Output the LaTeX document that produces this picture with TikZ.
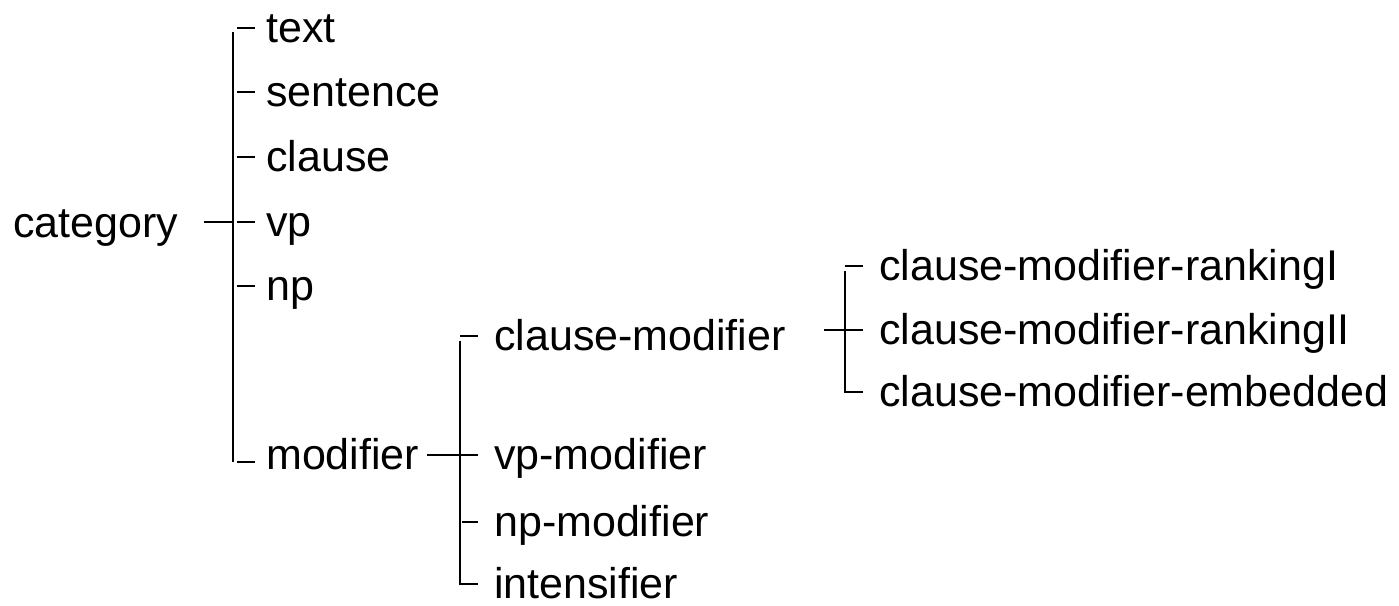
\documentclass[tikz,border=0pt]{standalone}
\usepackage{fontspec}
\setmainfont{Liberation Sans}
\begin{document}
\begin{tikzpicture}[x=1pt,y=-1pt,
  lbl/.style={anchor=west, inner sep=0pt, text height=32pt, text depth=3pt,
              font=\fontsize{43}{50}\selectfont},
  link/.style={line width=1.6pt, line cap=butt}]
\useasboundingbox (0,0) rectangle (1399,605);

% labels
\node[lbl] (category) at (13,223) {category};
\node[lbl] (text)     at (266,28)  {text};
\node[lbl] (sentence) at (266,92)  {sentence};
\node[lbl] (clause)   at (266,157) {clause};
\node[lbl] (vp)       at (266,222) {vp};
\node[lbl] (np)       at (266,286) {np};
\node[lbl] (modifier) at (266,455) {modifier};

\node[lbl] (cmod)  at (494,336) {clause-modifier};
\node[lbl] (vpmod) at (494,455) {vp-modifier};
\node[lbl] (npmod) at (494,522) {np-modifier};
\node[lbl] (inten) at (494,584) {intensifier};

\node[lbl] (rank1) at (879,266) {clause-modifier-rankingI};
\node[lbl] (rank2) at (879,330) {clause-modifier-rankingII};
\node[lbl] (embed) at (879,392) {clause-modifier-embedded};

% first bracket
\draw[link] ([xshift=-33pt,yshift=-4pt]text.west) -- ([xshift=-33pt,yshift=-7pt]modifier.west);
\foreach \n in {text,sentence,clause,vp,np}
  \draw[link] ([xshift=-29pt]\n.west) -- ([xshift=-11pt]\n.west);
\draw[link] ([xshift=-29pt,yshift=-7pt]modifier.west) -- ([xshift=-11pt,yshift=-7pt]modifier.west);
\draw[link] ([xshift=26pt]category.east |- vp.west) -- ([xshift=-33pt]vp.west);

% second bracket
\draw[link] ([xshift=-34pt,yshift=-5pt]cmod.west) -- ([xshift=-34pt]inten.west) -- ([xshift=-16pt]inten.west);
\draw[link] ([xshift=-34pt]cmod.west) -- ([xshift=-16pt]cmod.west);
\draw[link] ([xshift=-32pt]npmod.west) -- ([xshift=-16pt]npmod.west);
\draw[link] ([xshift=8pt]modifier.east) -- ([xshift=-16pt]vpmod.west);

% third bracket
\draw[link] ([xshift=-34pt,yshift=-5pt]rank1.west) -- ([xshift=-34pt]embed.west) -- ([xshift=-16pt]embed.west);
\draw[link] ([xshift=-34pt]rank1.west) -- ([xshift=-16pt]rank1.west);
\draw[link] ([xshift=38pt]cmod.east |- rank2.west) -- ([xshift=-16pt]rank2.west);
\end{tikzpicture}
\end{document}
